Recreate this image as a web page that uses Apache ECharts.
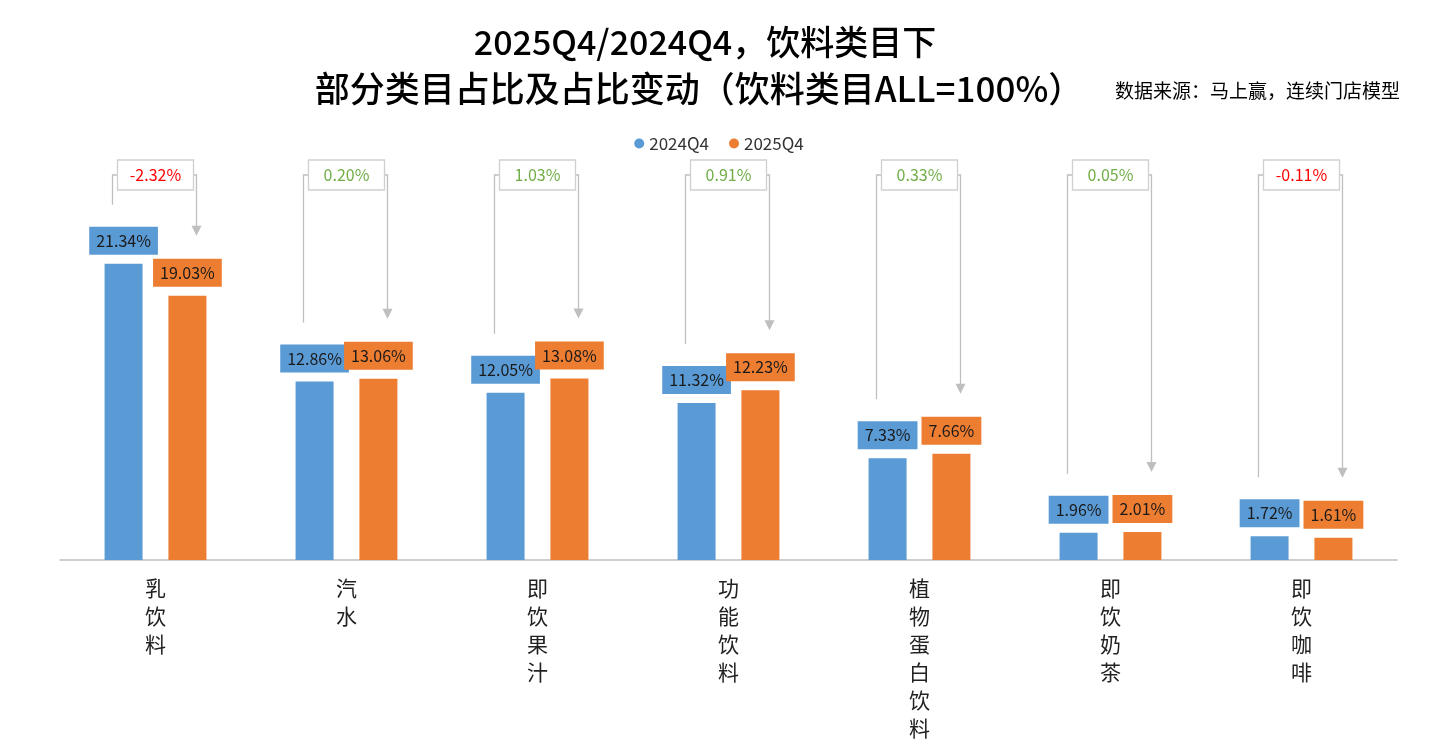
<!DOCTYPE html>
<html>
<head>
<meta charset="utf-8">
<script src="https://cdn.jsdelivr.net/npm/echarts@6/dist/echarts.min.js"></script>
<style>html,body{margin:0;padding:0;background:#fff}#main{width:1438px;height:742px}</style>
</head>
<body>
<div id="main"></div>
<script>
var categories = ['乳饮料', '汽水', '即饮果汁', '功能饮料', '植物蛋白饮料', '即饮奶茶', '即饮咖啡'];
var data2024 = [21.34, 12.86, 12.05, 11.32, 7.33, 1.96, 1.72];
var data2025 = [19.03, 13.06, 13.08, 12.23, 7.66, 2.01, 1.61];
var diffs = [-2.32, 0.20, 1.03, 0.91, 0.33, 0.05, -0.11];

var font = '"Noto Sans CJK SC", "Noto Sans", sans-serif';
var myChart = echarts.init(document.getElementById('main'));

var annData = categories.map(function (c, i) {
    return [i, data2024[i], data2025[i], diffs[i]];
});

var option = {
    animation: false,
    title: [{
        text: '2025Q4/2024Q4，饮料类目下',
        left: 700, top: 20, textAlign: 'center',
        textStyle: {fontSize: 34, fontWeight: 500, color: '#000', fontFamily: font}
    }, {
        text: '部分类目占比及占比变动（饮料类目ALL=100%）',
        left: 694, top: 66, textAlign: 'center',
        textStyle: {fontSize: 35, fontWeight: 500, color: '#000', fontFamily: font}
    }, {
        text: '数据来源：马上赢，连续门店模型',
        right: 33, top: 76,
        textStyle: {fontSize: 19, fontWeight: 'normal', color: '#000', fontFamily: font}
    }],
    legend: {
        data: ['2024Q4', '2025Q4'],
        top: 130, left: 'center',
        icon: 'circle', itemWidth: 10, itemHeight: 10, itemGap: 20,
        textStyle: {fontSize: 17, color: '#333', fontFamily: font}
    },
    grid: {left: 60, right: 41, top: 213, height: 350},
    xAxis: {
        type: 'category',
        data: categories,
        axisLine: {lineStyle: {color: '#bfbfbf', width: 1.5}},
        axisTick: {show: false},
        axisLabel: {
            interval: 0, margin: 14, fontSize: 21, lineHeight: 28, color: '#222', fontFamily: font,
            formatter: function (v) { return v.split('').join('\n'); }
        }
    },
    yAxis: {type: 'value', min: 0, max: 25, show: false},
    series: [{
        name: '2024Q4', type: 'bar', data: data2024, barWidth: 38, barGap: '68%',
        itemStyle: {color: '#5b9bd5'},
        label: {
            show: true, position: 'top', distance: 9,
            formatter: function (p) { return p.value.toFixed(2) + '%'; },
            backgroundColor: '#5b9bd5', padding: [6, 7], color: '#1a1a1a', fontSize: 16, fontFamily: font
        }
    }, {
        name: '2025Q4', type: 'bar', data: data2025, barWidth: 38,
        itemStyle: {color: '#ed7d31'},
        label: {
            show: true, position: 'top', distance: 9,
            formatter: function (p) { return p.value.toFixed(2) + '%'; },
            backgroundColor: '#ed7d31', padding: [6, 7], color: '#1a1a1a', fontSize: 16, fontFamily: font
        }
    }, {
        type: 'custom', data: annData, clip: false, silent: true, z: 5,
        renderItem: function (params, api) {
            var cx = api.coord([api.value(0), 0])[0];
            var yb = api.coord([api.value(0), api.value(1)])[1];
            var yo = api.coord([api.value(0), api.value(2)])[1];
            var d = api.value(3);
            var xl = cx - 43, xr = cx + 41, top = 175;
            var bw = 76, bh = 30;
            var lineStyle = {stroke: '#bfbfbf', lineWidth: 1.3, fill: null};
            var yArrow = yo - 60;
            return {
                type: 'group',
                children: [
                    {type: 'polyline', shape: {points: [[xl, yb - 59], [xl, top], [cx - bw / 2, top]]}, style: lineStyle},
                    {type: 'polyline', shape: {points: [[cx + bw / 2, top], [xr, top], [xr, yArrow - 9]]}, style: lineStyle},
                    {type: 'polygon', shape: {points: [[xr - 5, yArrow - 10], [xr + 5, yArrow - 10], [xr, yArrow]]}, style: {fill: '#bfbfbf'}},
                    {type: 'rect', shape: {x: cx - bw / 2, y: top - bh / 2, width: bw, height: bh},
                        style: {fill: '#fff', stroke: '#d0d0d0', lineWidth: 1.3}},
                    {type: 'text', x: cx, y: top, style: {
                        text: d.toFixed(2) + '%', align: 'center', verticalAlign: 'middle',
                        fill: d < 0 ? '#ff0000' : '#70ad47', fontSize: 16, fontFamily: font
                    }}
                ]
            };
        }
    }]
};
myChart.setOption(option);
</script>
</body>
</html>
